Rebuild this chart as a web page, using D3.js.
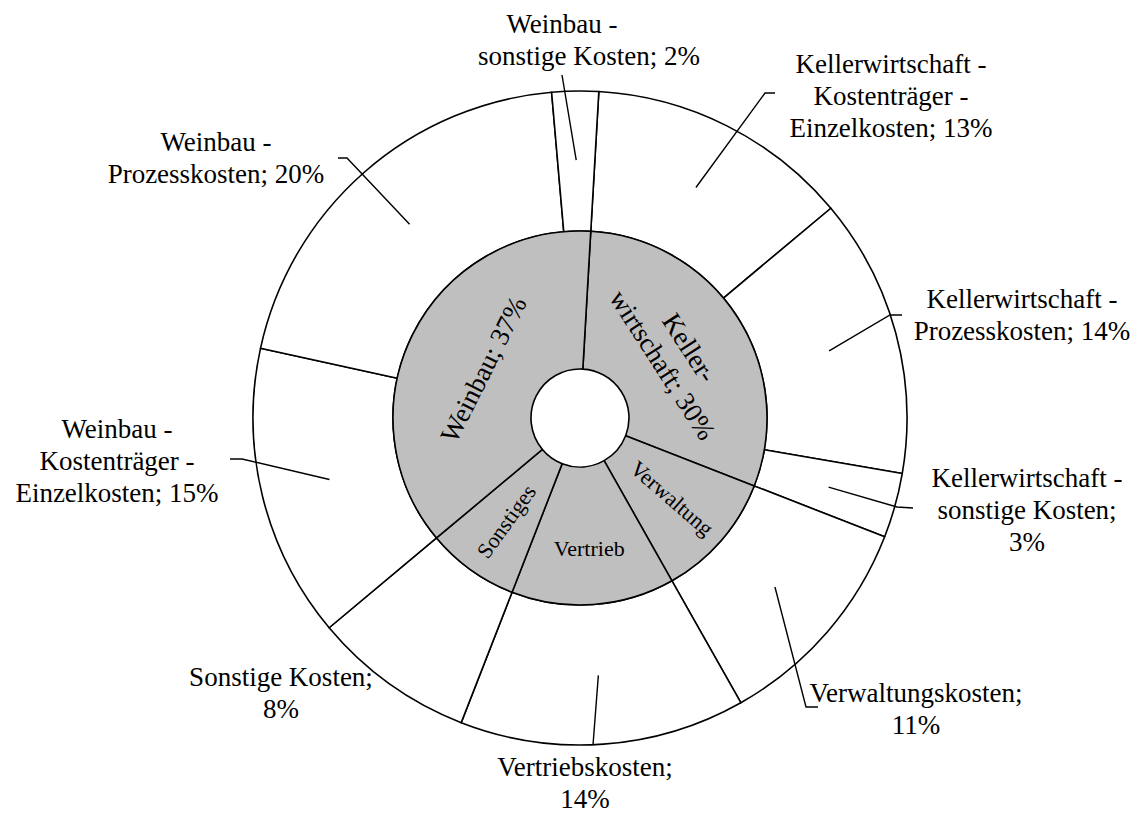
<!DOCTYPE html>
<html>
<head>
<meta charset="utf-8">
<script src="https://cdn.jsdelivr.net/npm/d3@7/dist/d3.min.js"></script>
<style>
  html, body { margin: 0; padding: 0; background: #ffffff; }
  svg { display: block; }
  text { font-family: "Liberation Serif", "Times New Roman", serif; fill: #000; }
</style>
</head>
<body>
<svg id="chart" width="1142" height="816"></svg>
<script>
// ---------- data ----------
const outerCategories = [
  "Kellerwirtschaft -\nKostenträger -\nEinzelkosten",
  "Kellerwirtschaft -\nProzesskosten",
  "Kellerwirtschaft -\nsonstige Kosten",
  "Verwaltungskosten",
  "Vertriebskosten",
  "Sonstige Kosten",
  "Weinbau -\nKostenträger -\nEinzelkosten",
  "Weinbau -\nProzesskosten",
  "Weinbau -\nsonstige Kosten"
];
const outerValues = [13, 13.8, 3.2, 10.9, 14.1, 8, 14.5, 20.2, 2.3];

const innerCategories = ["Keller-\nwirtschaft", "Verwaltung", "Vertrieb", "Sonstiges", "Weinbau"];
const innerValues = [30, 10.9, 14.1, 8, 37];
const innerShowPct = [true, false, false, false, true];

// ---------- layout (not data) ----------
const W = 1142, H = 816;
const cx = 580, cy = 418;
const rHole = 49, rMid = 187, rOuter = 327, rLeader = 258;
const startDeg = 3.3;
const fontFamily = '"Liberation Serif", "Times New Roman", serif';
const fontSize = 27, lineH = 32;

const outerLabelLayout = [
  { x: 891,  y: 73,  pctNewLine: false, elbow: [765, 93],  end: [775, 93] },
  { x: 1022, y: 308, pctNewLine: false, elbow: [890, 315], end: [902, 315] },
  { x: 1027, y: 487, pctNewLine: true,  elbow: [897, 507], end: [913, 508] },
  { x: 916,  y: 702, pctNewLine: true,  elbow: [806, 707], end: [818, 707] },
  { x: 585,  y: 776, pctNewLine: true,  elbow: [593, 745], end: null },
  { x: 281,  y: 686, pctNewLine: true,  elbow: null,       end: null },
  { x: 117,  y: 438, pctNewLine: false, elbow: [242, 459], end: [230, 459] },
  { x: 216,  y: 151, pctNewLine: false, elbow: [347, 158], end: [338, 158] },
  { x: 589,  y: 33,  pctNewLine: false, elbow: [562, 75],  end: null, firstDx: -27 }
];
const innerLabelLayout = [
  { r: 114, mode: "tangent", size: 27 },
  { r: 122, mode: "radial",  size: 22 },
  { r: 130, mode: "flat",    size: 22 },
  { r: 127, mode: "radial",  size: 22 },
  { r: 108, mode: "tangent", size: 27 }
];

// ---------- drawing ----------
const svg = d3.select("#chart");
const start = startDeg * Math.PI / 180;
const pie = d3.pie().sort(null).value(d => d)
  .startAngle(start).endAngle(start + 2 * Math.PI);

const outerArcs = pie(outerValues);
const innerArcs = pie(innerValues);

const arcOuter = d3.arc().innerRadius(rMid).outerRadius(rOuter);
const arcInner = d3.arc().innerRadius(rHole).outerRadius(rMid);

const g = svg.append("g").attr("transform", `translate(${cx},${cy})`);

g.selectAll("path.outer").data(outerArcs).enter().append("path")
  .attr("class", "outer")
  .attr("d", arcOuter)
  .attr("fill", "#ffffff")
  .attr("stroke", "#000")
  .attr("stroke-width", 1.6)
  .attr("stroke-linejoin", "round");

g.selectAll("path.inner").data(innerArcs).enter().append("path")
  .attr("class", "inner")
  .attr("d", arcInner)
  .attr("fill", "#bfbfbf")
  .attr("stroke", "#000")
  .attr("stroke-width", 1.6)
  .attr("stroke-linejoin", "round");

const pct = v => Math.round(v) + "%";
const mid = d => (d.startAngle + d.endAngle) / 2;
const polar = (a, r) => [r * Math.sin(a), -r * Math.cos(a)];

// leaders
outerArcs.forEach((d, i) => {
  const L = outerLabelLayout[i];
  if (!L.elbow) return;
  const p0 = polar(mid(d), rLeader);
  const pts = [[cx + p0[0], cy + p0[1]], L.elbow];
  if (L.end) pts.push(L.end);
  svg.append("path")
    .attr("d", d3.line()(pts))
    .attr("fill", "none")
    .attr("stroke", "#000")
    .attr("stroke-width", 1.4);
});

// outer labels
outerArcs.forEach((d, i) => {
  const L = outerLabelLayout[i];
  const full = outerCategories[i] + ";" + (L.pctNewLine ? "\n" : " ") + pct(outerValues[i]);
  const lines = full.split("\n");
  const t = svg.append("text")
    .attr("text-anchor", "middle")
    .attr("font-family", fontFamily)
    .attr("font-size", fontSize);
  lines.forEach((ln, j) => {
    t.append("tspan")
      .attr("x", L.x + (j === 0 && L.firstDx ? L.firstDx : 0))
      .attr("y", L.y + j * lineH)
      .text(ln);
  });
});

// inner labels
innerArcs.forEach((d, i) => {
  const L = innerLabelLayout[i];
  const m = mid(d);
  const deg = m * 180 / Math.PI;
  let rot = 0;
  if (L.mode === "tangent") { rot = deg; if (rot > 180) rot -= 360; if (rot > 90) rot -= 180; }
  else if (L.mode === "radial") { rot = deg - 90; if (rot > 90) rot -= 180; }
  const p = polar(m, L.r);
  let txt = innerCategories[i];
  if (innerShowPct[i]) txt += "; " + pct(innerValues[i]);
  const lines = txt.split("\n");
  const t = g.append("text")
    .attr("transform", `translate(${p[0]},${p[1]}) rotate(${rot})`)
    .attr("text-anchor", "middle")
    .attr("dominant-baseline", "central")
    .attr("font-family", fontFamily)
    .attr("font-size", L.size);
  lines.forEach((ln, j) => {
    t.append("tspan")
      .attr("x", 0)
      .attr("y", (j - (lines.length - 1) / 2) * lineH)
      .text(ln);
  });
});
</script>
</body>
</html>
